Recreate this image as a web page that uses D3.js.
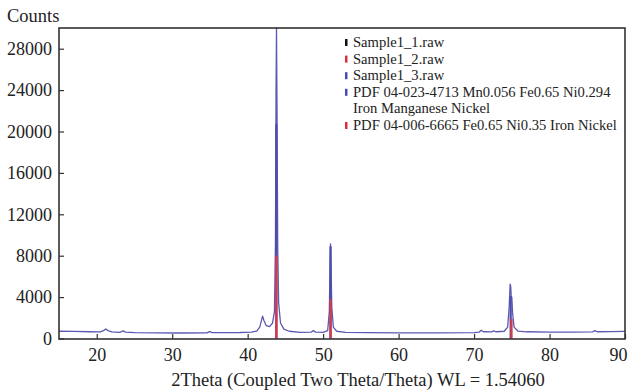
<!DOCTYPE html>
<meta charset="utf-8">
<style>
body { margin: 0; background: #fff; }
text { font-family: "Liberation Serif", "Times New Roman", serif; fill: #222; }
.trace { fill: none; stroke: #5a5ab4; stroke-width: 1.3px; stroke-linejoin: round; }
</style>
<svg width="629" height="392"></svg>
<script src="https://cdn.jsdelivr.net/npm/d3@7"></script>
<script>

// measured pattern, Sample1_3 (blue) - [2theta, counts]
var trace = [
  [15, 700], [17, 680], [19, 650], [20.5, 640], [20.9, 760], [21.2, 920], [21.5, 760], [22, 640],
  [23, 600], [23.3, 660], [23.5, 740], [23.8, 620], [25, 570], [28, 550], [31, 530],
  [34.6, 540], [34.95, 660], [35.3, 560], [37, 560], [39, 580], [40.5, 620], [41.2, 720],
  [41.6, 1100], [41.85, 1800], [41.98, 2150], [42.15, 1750], [42.45, 1250], [42.9, 1150],
  [43.3, 1500], [43.55, 2600], [43.68, 9000], [43.76, 24000], [43.82, 30000], [43.9, 21000],
  [43.98, 9000], [44.1, 3500], [44.35, 1500], [44.8, 900], [45.5, 700], [47, 600],
  [48.4, 610], [48.7, 760], [49, 620], [50, 600], [50.6, 750], [50.82, 2600], [50.92, 7200],
  [50.98, 9150], [51.05, 7000], [51.15, 3000], [51.35, 1100], [51.8, 700], [53, 600],
  [56, 560], [60, 540], [65, 540], [70, 570], [70.7, 620], [70.95, 800], [71.25, 650],
  [72.3, 640], [72.6, 740], [72.9, 650], [74, 700], [74.45, 1100], [74.65, 3000],
  [74.78, 5250], [74.86, 5000], [74.93, 3900], [75.0, 4000], [75.1, 2500], [75.3, 1100],
  [75.8, 720], [77, 650], [80, 620], [83, 620], [85.7, 640], [86.0, 760], [86.3, 650],
  [88, 660], [90, 680]
];

// reference sticks
var pdfBluePos = [43.8, 50.98, 74.85];
var pdfBlueInt = [20700, 8900, 4100];
var pdfRedPos = [43.8, 50.98, 74.95];
var pdfRedInt = [8000, 3800, 1900];

var legendLabels = ["Sample1_1.raw", "Sample1_2.raw", "Sample1_3.raw",
  "PDF 04-023-4713 Mn0.056 Fe0.65 Ni0.294", "Iron Manganese Nickel",
  "PDF 04-006-6665 Fe0.65 Ni0.35 Iron Nickel"];
var legendColors = ["#111", "#d8303a", "#4a4ab0", "#4a4ab0", null, "#d8303a"];

var xTicks = [20, 30, 40, 50, 60, 70, 80, 90];
var yTicks = [0, 4000, 8000, 12000, 16000, 20000, 24000, 28000];

var svg = d3.select("svg");
var plotL = 59, plotR = 625, plotT = 28, plotB = 339;

var x = d3.scaleLinear().domain([15, 90]).range([plotL, plotR]);
var y = d3.scaleLinear().domain([0, 30000]).range([plotB - 0.5, plotT]);

var plot = svg.append("g");

var line = d3.line()
    .x(function(d) { return x(d[0]); })
    .y(function(d) { return y(d[1]); });

plot.append("path")
    .attr("class", "trace")
    .datum(trace)
    .attr("d", line);

// blue reference sticks
plot.selectAll(".bstick")
    .data(pdfBluePos)
  .enter().append("rect")
    .attr("class", "bstick")
    .attr("x", function(d) { return x(d) - 1.1; })
    .attr("y", function(d, i) { return y(pdfBlueInt[i]); })
    .attr("width", 2.2)
    .attr("height", function(d, i) { return y(0) - y(pdfBlueInt[i]); })
    .attr("fill", "#4c4cae");

// red reference sticks
plot.selectAll(".rstick")
    .data(pdfRedPos)
  .enter().append("rect")
    .attr("class", "rstick")
    .attr("x", function(d) { return x(d) - 1.2; })
    .attr("y", function(d, i) { return y(pdfRedInt[i]); })
    .attr("width", 2.4)
    .attr("height", function(d, i) { return y(0) - y(pdfRedInt[i]); })
    .attr("fill", "#d43a48");

// frame
svg.append("rect")
    .attr("x", plotL)
    .attr("y", plotT)
    .attr("width", plotR - plotL)
    .attr("height", plotB - plotT)
    .attr("fill", "none")
    .attr("stroke", "#333")
    .attr("stroke-width", 1.6);

// axes, ticks pointing in
var yAxis = d3.axisLeft(y).tickValues(yTicks).tickFormat(d3.format("d"))
    .tickSizeInner(-5).tickSizeOuter(0).tickPadding(7);
var xAxis = d3.axisBottom(x).tickValues(xTicks).tickFormat(d3.format("d"))
    .tickSizeInner(-5).tickSizeOuter(0).tickPadding(9);

var gy = svg.append("g").attr("transform", "translate(" + plotL + ",0)").call(yAxis);
var gx = svg.append("g").attr("transform", "translate(0," + plotB + ")").call(xAxis);

[gy, gx].forEach(function(g) {
  g.select(".domain").remove();
  g.selectAll("line").attr("stroke", "#333").attr("stroke-width", 1.2);
  g.selectAll("text")
      .attr("font-family", "Liberation Serif, serif")
      .attr("font-size", 18)
      .attr("fill", "#222");
});

// last x label sits against the edge
gx.selectAll(".tick text").filter(function(d) { return d === 90; })
    .attr("text-anchor", "end")
    .attr("dx", 2);

svg.append("text")
    .attr("x", 7)
    .attr("y", 22)
    .attr("font-size", 18.5)
    .text("Counts");

svg.append("text")
    .attr("x", (plotL + plotR) / 2 + 16)
    .attr("y", 386)
    .attr("text-anchor", "middle")
    .attr("font-size", 18.5)
    .text("2Theta (Coupled Two Theta/Theta) WL = 1.54060");

// legend
var leg = svg.append("g").attr("transform", "translate(345,42)");
var rows = leg.selectAll("g")
    .data(legendLabels)
  .enter().append("g")
    .attr("transform", function(d, i) { return "translate(0," + (i * 16.6) + ")"; });

rows.filter(function(d, i) { return legendColors[i]; })
  .append("rect")
    .attr("x", 0)
    .attr("y", -3)
    .attr("width", 2.5)
    .attr("height", 7)
    .attr("fill", function(d) { return legendColors[legendLabels.indexOf(d)]; });

rows.append("text")
    .attr("x", 8)
    .attr("y", 5)
    .attr("font-size", 14.6)
    .text(function(d) { return d; });

</script>
